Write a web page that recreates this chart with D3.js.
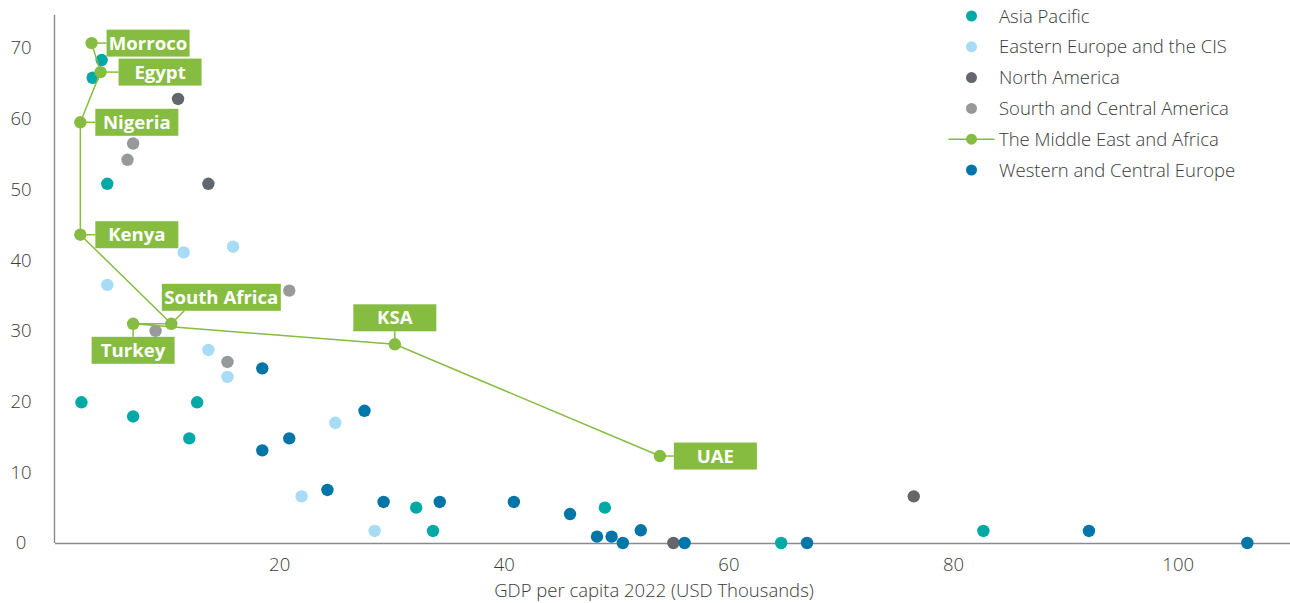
<!DOCTYPE html>
<html>
<head>
<meta charset="utf-8">
<script src="https://cdn.jsdelivr.net/npm/d3@7"></script>
<style>
  html, body { margin: 0; padding: 0; background: #ffffff; }
  svg { display: block; font-family: "Open Sans", "Noto Sans", sans-serif; }
</style>
</head>
<body>
<svg id="chart" width="1290" height="603"></svg>
<script>
// GDP per capita 2022 (USD thousands) vs. share value, grouped by region
const regions = [
  "Asia Pacific",
  "Eastern Europe and the CIS",
  "North America",
  "Sourth and Central America",
  "The Middle East and Africa",
  "Western and Central Europe"
];
const regionColors = ["#00a9a5", "#a7dbf6", "#63666a", "#97999b", "#86bc40", "#0076a8"];

const asiaPacificX = [4.2, 3.4, 4.7, 2.4, 7.0, 12.7, 12.0, 32.2, 33.7, 49.0, 64.7, 82.7];
const asiaPacificY = [68.3, 65.8, 50.8, 19.9, 17.9, 19.9, 14.8, 5.0, 1.7, 5.0, 0, 1.7];

const easternEuropeX = [11.5, 15.9, 4.7, 13.7, 15.4, 25.0, 22.0, 28.5];
const easternEuropeY = [41.1, 41.9, 36.5, 27.3, 23.5, 17.0, 6.6, 1.7];

const northAmericaX = [11.0, 13.7, 55.1, 76.5];
const northAmericaY = [62.8, 50.8, 0, 6.6];

const southCentralX = [7.0, 6.5, 20.9, 9.0, 15.4];
const southCentralY = [56.5, 54.2, 35.7, 30.0, 25.6];

const westernEuropeX = [18.5, 27.6, 20.9, 18.5, 24.3, 29.3, 34.3, 40.9, 45.9, 48.3, 49.6, 50.6, 52.2, 56.1, 67.0, 92.1, 106.2];
const westernEuropeY = [24.7, 18.7, 14.8, 13.1, 7.5, 5.8, 5.8, 5.8, 4.1, 0.9, 0.9, 0, 1.8, 0, 0, 1.7, 0];

// The Middle East and Africa, joined in this order
const meaCountries = ["Morroco", "Egypt", "Nigeria", "Kenya", "South Africa", "Turkey", "KSA", "UAE"];
const meaX = [3.3, 4.1, 2.3, 2.3, 10.4, 7.0, 30.3, 53.9];
const meaY = [70.7, 66.6, 59.5, 43.6, 31.0, 31.0, 28.1, 12.3];

const xTicks = [20, 40, 60, 80, 100];
const yTicks = [0, 10, 20, 30, 40, 50, 60, 70];
const xTitle = "GDP per capita 2022 (USD Thousands)";

// ---- layout ----
const svg = d3.select("#chart");
const x = d3.scaleLinear().domain([0, 110]).range([54.5, 1290]);
const y = d3.scaleLinear().domain([0, 75]).range([543, 12.7]);

const axisColor = "#8a8a8a";
const textColor = "#3a3a3a";
const fontSize = 18.5;

// axes: plain lines with unticked labels
const xAxis = svg.append("g").attr("transform", `translate(0,${y(0)})`)
  .call(d3.axisBottom(x).tickValues(xTicks).tickSize(0).tickPadding(15).tickSizeOuter(0));
xAxis.select(".domain").attr("stroke", axisColor).attr("stroke-width", 1.4);
xAxis.selectAll(".tick text").attr("fill", textColor).attr("font-size", fontSize).attr("font-weight", 300)
  .attr("font-family", "'Open Sans', sans-serif");

const yAxis = svg.append("g").attr("transform", `translate(${x(0)},0)`)
  .call(d3.axisLeft(y).tickValues(yTicks).tickSize(0).tickSizeOuter(0));
yAxis.select(".domain").attr("stroke", axisColor).attr("stroke-width", 1.4)
  .attr("d", `M0,${y(75) + 2}V${y(0)}`);
yAxis.selectAll(".tick text").attr("fill", textColor).attr("font-size", fontSize).attr("font-weight", 300)
  .attr("font-family", "'Open Sans', sans-serif")
  .attr("text-anchor", "middle").attr("x", 21 - x(0));

svg.append("text")
  .attr("x", 654).attr("y", 597)
  .attr("text-anchor", "middle")
  .attr("fill", textColor).attr("font-size", fontSize).attr("font-weight", 300)
  .text(xTitle);

// ---- scatter series ----
const scatterSeries = [
  { name: regions[0], xs: asiaPacificX, ys: asiaPacificY, color: regionColors[0] },
  { name: regions[1], xs: easternEuropeX, ys: easternEuropeY, color: regionColors[1] },
  { name: regions[2], xs: northAmericaX, ys: northAmericaY, color: regionColors[2] },
  { name: regions[3], xs: southCentralX, ys: southCentralY, color: regionColors[3] },
  { name: regions[5], xs: westernEuropeX, ys: westernEuropeY, color: regionColors[5] }
];
const dotR = 6.2;

scatterSeries.forEach(s => {
  const pts = s.xs.map((v, i) => ({ x: v, y: s.ys[i] }));
  svg.append("g").selectAll("circle").data(pts).join("circle")
    .attr("cx", d => x(d.x)).attr("cy", d => y(d.y)).attr("r", dotR)
    .attr("fill", s.color);
});

// ---- Middle East and Africa line with callouts ----
const green = regionColors[4];
const mea = meaCountries.map((c, i) => ({ name: c, x: meaX[i], y: meaY[i] }));

svg.append("path")
  .datum(mea)
  .attr("fill", "none").attr("stroke", green).attr("stroke-width", 1.5)
  .attr("d", d3.line().x(d => x(d.x)).y(d => y(d.y)));

// callout placement: side of the dot, box width, gap, and horizontal shift
const calloutLayout = {
  "Morroco":      { side: "right", w: 83, gap: 15 },
  "Egypt":        { side: "right", w: 83, gap: 18 },
  "Nigeria":      { side: "right", w: 83, gap: 15 },
  "Kenya":        { side: "right", w: 83, gap: 15 },
  "South Africa": { side: "above", w: 119, gap: 13, shift: 50, leadTo: 13 },
  "Turkey":       { side: "below", w: 83, gap: 13 },
  "KSA":          { side: "above", w: 83, gap: 13 },
  "UAE":          { side: "right", w: 83, gap: 14 }
};
const boxH = 27;

const callouts = svg.append("g");
mea.forEach(d => {
  const L = calloutLayout[d.name];
  const px = x(d.x), py = y(d.y);
  let bx, by, lx, ly;
  if (L.side === "right") {
    bx = px + L.gap; by = py - boxH / 2; lx = bx; ly = py;
  } else if (L.side === "above") {
    bx = px - L.w / 2 + (L.shift || 0); by = py - L.gap - boxH;
    lx = px + (L.leadTo || 0); ly = by + boxH;
  } else {
    bx = px - L.w / 2; by = py + L.gap; lx = px; ly = by;
  }
  callouts.append("line")
    .attr("x1", px).attr("y1", py).attr("x2", lx).attr("y2", ly)
    .attr("stroke", green).attr("stroke-width", 1.5);
  callouts.append("rect")
    .attr("x", bx).attr("y", by).attr("width", L.w).attr("height", boxH)
    .attr("fill", green);
  callouts.append("text")
    .attr("x", bx + L.w / 2).attr("y", by + boxH / 2 + 6.6)
    .attr("text-anchor", "middle")
    .attr("fill", "#ffffff").attr("font-size", 18.6).attr("font-weight", 700)
    .text(d.name);
});

svg.append("g").selectAll("circle").data(mea).join("circle")
  .attr("cx", d => x(d.x)).attr("cy", d => y(d.y)).attr("r", dotR)
  .attr("fill", green);

// ---- legend ----
const legend = svg.append("g").attr("transform", "translate(971.5,16)");
const legendStep = 30.8;
regions.forEach((name, i) => {
  const g = legend.append("g").attr("transform", `translate(0,${i * legendStep})`);
  if (i === 4) {
    g.append("line").attr("x1", -23).attr("x2", 23).attr("y1", 0).attr("y2", 0)
      .attr("stroke", green).attr("stroke-width", 1.5);
  }
  g.append("circle").attr("r", 5.5).attr("fill", regionColors[i]);
  g.append("text").attr("x", 27.5).attr("y", 6.5)
    .attr("fill", textColor).attr("font-size", fontSize).attr("font-weight", 300)
    .text(name);
});
</script>
</body>
</html>
